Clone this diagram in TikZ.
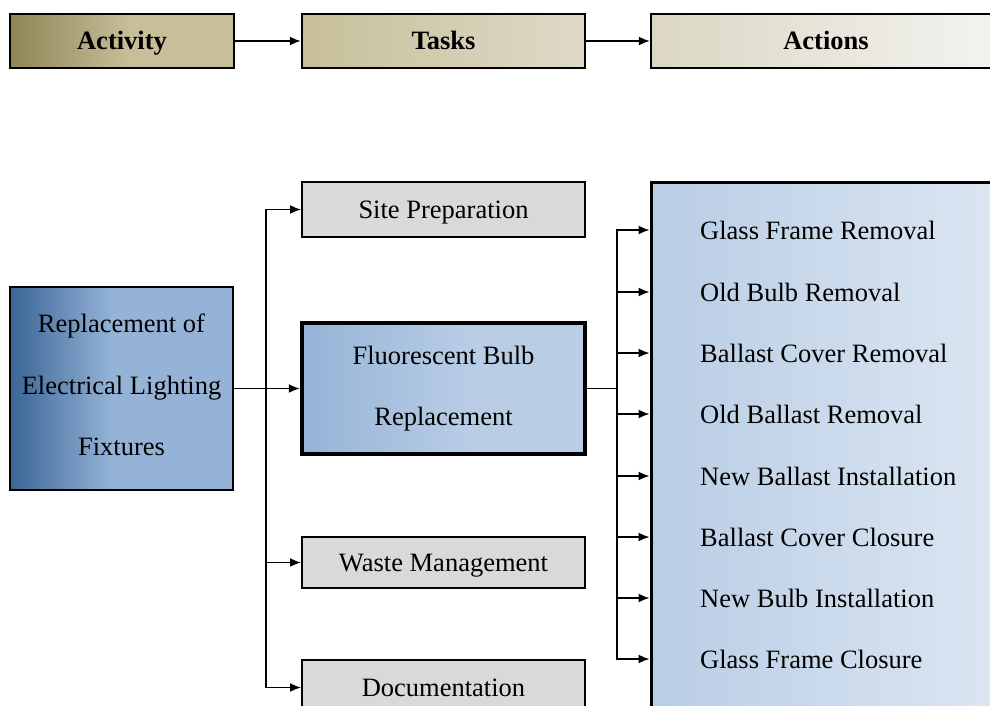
\documentclass[tikz,border=0pt]{standalone}
\usepackage{fontspec}
\setmainfont{Liberation Serif}
\usetikzlibrary{arrows.meta}

\definecolor{olA}{HTML}{8F8656}
\definecolor{olB}{HTML}{C6BF99}
\definecolor{olC}{HTML}{DFDAC8}
\definecolor{olD}{HTML}{DCD7C4}
\definecolor{olE}{HTML}{F3F3F1}
\definecolor{blA}{HTML}{3B6595}
\definecolor{blB}{HTML}{95B3D7}
\definecolor{blC}{HTML}{B9CDE5}
\definecolor{blD}{HTML}{DDE7F2}
\definecolor{greyfill}{HTML}{D9D9D9}

% horizontal shadings: the path spans 25bp..75bp of each range
\pgfdeclarehorizontalshading{shActivity}{100bp}{color(0bp)=(olA); color(25bp)=(olA); color(52bp)=(olB); color(100bp)=(olB)}
\pgfdeclarehorizontalshading{shTasks}{100bp}{color(0bp)=(olB); color(25bp)=(olB); color(75bp)=(olC); color(100bp)=(olC)}
\pgfdeclarehorizontalshading{shActions}{100bp}{color(0bp)=(olD); color(25bp)=(olD); color(75bp)=(olE); color(100bp)=(olE)}
\pgfdeclarehorizontalshading{shRoot}{100bp}{color(0bp)=(blA); color(25bp)=(blA); color(48bp)=(blB); color(100bp)=(blB)}
\pgfdeclarehorizontalshading{shFluor}{100bp}{color(0bp)=(blB); color(25bp)=(blB); color(55bp)=(blC); color(100bp)=(blC)}
\pgfdeclarehorizontalshading{shList}{100bp}{color(0bp)=(blC); color(25bp)=(blC); color(75bp)=(blD); color(100bp)=(blD)}

\tikzset{
  txt/.style={font=\fontsize{26.5}{61.5}\selectfont, text=black},
  oneline/.style={text height=23.5pt, text depth=6pt},
  header/.style={txt, oneline, font=\fontsize{26.5}{30}\selectfont\bfseries, draw=black, line width=2.5pt,
    minimum height=54pt, inner sep=0pt},
  taskbox/.style={txt, oneline, draw=black, line width=2pt, fill=greyfill, minimum width=283pt, inner sep=0pt},
  item/.style={txt, anchor=west, inner sep=0pt},
  conn/.style={line width=1.6pt, -{Latex[length=11pt,width=9pt]}},
  link/.style={line width=1.6pt}
}

\begin{document}
\begin{tikzpicture}[x=1pt,y=-1pt]
\useasboundingbox (0,0) rectangle (990,706);
\clip (0,0) rectangle (990,706);

% header row
\node[header, shading=shActivity, minimum width=224pt] (act) at (122,41) {Activity};
\node[header, shading=shTasks, minimum width=283pt] (tasks) at (443.5,41) {Tasks};
\node[header, shading=shActions, minimum width=350pt] (actions) at (826,41) {Actions};
\draw[conn] (act.east) -- (tasks.west);
\draw[conn] (tasks.east) -- (actions.west);

% activity
\node[txt, draw=black, line width=2pt, shading=shRoot, minimum width=223pt, minimum height=203pt,
  inner sep=0pt, align=center] (root) at (121.5,388.5)
  {Replacement of\\Electrical Lighting\\Fixtures\rule[-7pt]{0pt}{7pt}};

% tasks
\node[taskbox, minimum height=55pt] (site) at (443.5,209.5) {Site Preparation};
\node[txt, draw=black, line width=4.5pt, shading=shFluor, minimum width=283pt, minimum height=131pt,
  inner sep=0pt, align=center] (fluor) at (443.5,388.5) {Fluorescent Bulb\\Replacement};
\node[taskbox, minimum height=51pt] (waste) at (443.5,562.5) {Waste Management};
\node[taskbox, minimum height=55pt] (doc) at (443.5,687.5) {Documentation};

% actions list container
\node[draw=black, line width=3pt, shading=shList, minimum width=360pt, minimum height=560pt,
  inner sep=0pt] (listbox) at (831,462) {};

\node[item] (a1) at (700,230) {Glass Frame Removal};
\node[item] (a2) at (700,292) {Old Bulb Removal};
\node[item] (a3) at (700,353) {Ballast Cover Removal};
\node[item] (a4) at (700,414) {Old Ballast Removal};
\node[item] (a5) at (700,476) {New Ballast Installation};
\node[item] (a6) at (700,537) {Ballast Cover Closure};
\node[item] (a7) at (700,598) {New Bulb Installation};
\node[item] (a8) at (700,659) {Glass Frame Closure};

% connectors from the activity to the tasks
\coordinate (j1) at (266,388.5);
\draw[conn] (root.east) -- (fluor.west);
\draw[conn] (j1) |- (site.west);
\draw[conn] (j1) |- (waste.west);
\draw[conn] (j1) |- (doc.west);

% connectors from the bulb replacement to the actions
\coordinate (j2) at (617,388.5);
\draw[link] (fluor.east) -- (j2);
\foreach \i in {1,...,8}{
  \draw[conn] (j2) |- (listbox.west |- a\i.west);
}
\end{tikzpicture}
\end{document}
